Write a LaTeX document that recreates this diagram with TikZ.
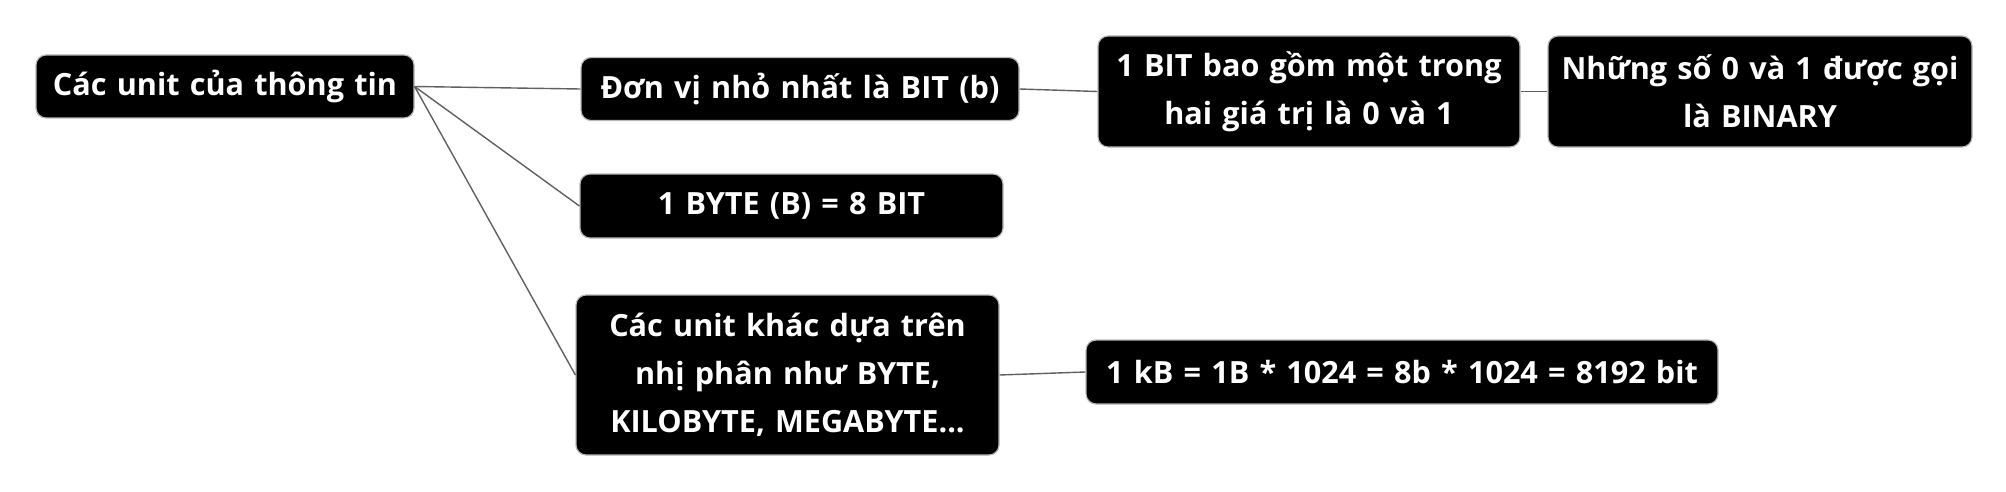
\documentclass[tikz,border=0pt]{standalone}
\usepackage{fontspec}
\setmainfont{Open Sans}
\begin{document}
\begin{tikzpicture}[x=0.5pt,y=-0.5pt,
  mbox/.style={fill=black, draw=gray!55, line width=0.6pt, rounded corners=5pt,
    text=white, font=\bfseries\fontsize{15.3pt}{24pt}\selectfont, align=center,
    inner sep=0pt, anchor=center},
  link/.style={draw=gray!75!black, line width=0.7pt}]
\useasboundingbox (0,0) rectangle (2006,492);
\node[mbox, text width=189pt, minimum height=31.5pt] (root) at (225,86.5) {Các unit của thông tin};
\node[mbox, text width=219pt, minimum height=31.5pt] (b1) at (800,89) {Đơn vị nhỏ nhất là BIT (b)};
\node[mbox, text width=211.5pt, minimum height=32pt] (b2) at (791.5,206) {1 BYTE (B) = 8 BIT};
\node[mbox, text width=211.5pt, minimum height=80pt] (b3) at (787.5,375) {Các unit khác dựa trên\\nhị phân như BYTE,\\KILOBYTE, MEGABYTE...};
\node[mbox, text width=211pt, minimum height=55.5pt] (c1) at (1309,91.5) {1 BIT bao gồm một trong\\hai giá trị là 0 và 1};
\node[mbox, text width=212pt, minimum height=55.5pt] (d1) at (1760,91.5) {Những số 0 và 1 được gọi\\là BINARY};
\node[mbox, text width=316pt, minimum height=32pt] (c3) at (1402,372) {1 kB = 1B * 1024 = 8b * 1024 = 8192 bit};
\draw[link] (root.east) -- (b1.west);
\draw[link] (root.east) -- (b2.west);
\draw[link] (root.east) -- (b3.west);
\draw[link] (b1.east) -- (c1.west);
\draw[link] (c1.east) -- (d1.west);
\draw[link] (b3.east) -- (c3.west);
\end{tikzpicture}
\end{document}
